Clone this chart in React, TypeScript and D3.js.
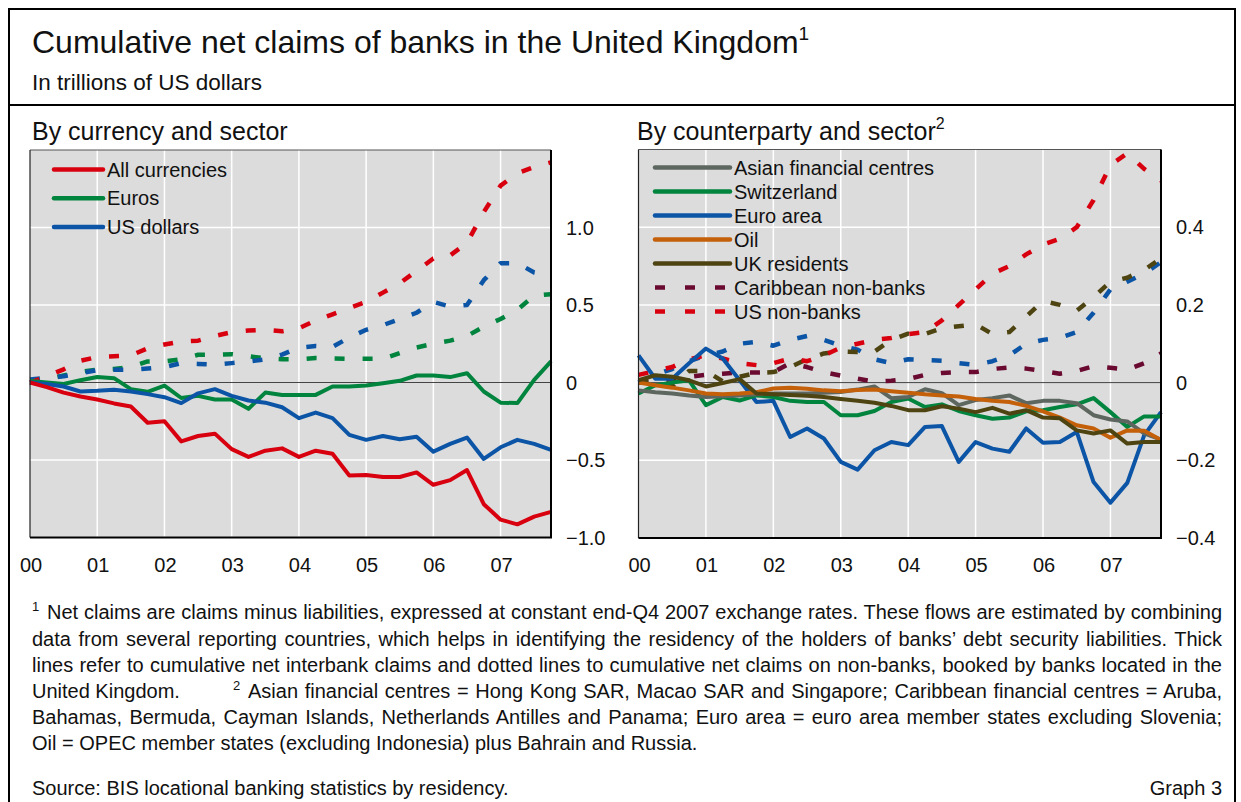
import React, { useLayoutEffect, useRef } from 'react';
import * as d3 from 'd3';

// ---------- Data (quarterly, 2000 Q1 .. 2007 Q4) ----------
const startYear = 2000;
const yearTicks = [2000, 2001, 2002, 2003, 2004, 2005, 2006, 2007];
const yearLabels = ['00', '01', '02', '03', '04', '05', '06', '07'];

// Left panel: by currency and sector (banks = solid, non-banks = dashed)
const allCurrenciesBanks = [0, -0.03, -0.065, -0.09, -0.11, -0.135, -0.155, -0.26, -0.25, -0.38, -0.345, -0.33, -0.43, -0.48, -0.44, -0.425, -0.48, -0.44, -0.46, -0.6, -0.597, -0.61, -0.61, -0.58, -0.66, -0.63, -0.565, -0.785, -0.885, -0.915, -0.865, -0.835];
const eurosBanks = [0.01, 0.0, -0.01, 0.015, 0.035, 0.028, -0.043, -0.06, -0.02, -0.1, -0.086, -0.11, -0.11, -0.17, -0.065, -0.08, -0.08, -0.08, -0.026, -0.026, -0.02, -0.005, 0.011, 0.045, 0.045, 0.035, 0.06, -0.058, -0.13, -0.133, 0.017, 0.136];
const usDollarsBanks = [0.0, -0.01, -0.026, -0.058, -0.054, -0.047, -0.058, -0.075, -0.095, -0.133, -0.07, -0.043, -0.086, -0.116, -0.13, -0.16, -0.23, -0.194, -0.23, -0.338, -0.37, -0.345, -0.366, -0.35, -0.446, -0.396, -0.355, -0.493, -0.418, -0.37, -0.396, -0.435];
const allCurrenciesNonBanks = [0, 0.04, 0.085, 0.14, 0.165, 0.17, 0.175, 0.22, 0.245, 0.265, 0.27, 0.3, 0.325, 0.335, 0.34, 0.33, 0.35, 0.4, 0.44, 0.48, 0.52, 0.58, 0.64, 0.72, 0.8, 0.82, 0.9, 1.1, 1.27, 1.35, 1.39, 1.42];
const eurosNonBanks = [0.0, 0.02, 0.045, 0.07, 0.083, 0.087, 0.1, 0.136, 0.136, 0.15, 0.179, 0.18, 0.183, 0.17, 0.155, 0.15, 0.15, 0.158, 0.155, 0.153, 0.153, 0.153, 0.19, 0.226, 0.25, 0.27, 0.3, 0.36, 0.41, 0.47, 0.56, 0.57];
const usDollarsNonBanks = [0.02, 0.03, 0.04, 0.06, 0.08, 0.082, 0.082, 0.09, 0.1, 0.125, 0.12, 0.115, 0.125, 0.135, 0.15, 0.18, 0.225, 0.235, 0.23, 0.29, 0.34, 0.37, 0.41, 0.45, 0.52, 0.49, 0.5, 0.66, 0.77, 0.77, 0.71, 0.69];

// Right panel: by counterparty and sector
const asianFinancialCentres = [-0.02, -0.025, -0.028, -0.033, -0.037, -0.035, -0.033, -0.03, -0.028, -0.028, -0.028, -0.026, -0.024, -0.018, -0.01, -0.04, -0.037, -0.017, -0.027, -0.058, -0.045, -0.04, -0.033, -0.053, -0.047, -0.047, -0.053, -0.084, -0.095, -0.1, -0.131, -0.147];
const switzerland = [-0.028, -0.007, 0.0, 0.006, -0.058, -0.037, -0.046, -0.033, -0.037, -0.047, -0.05, -0.05, -0.084, -0.084, -0.073, -0.05, -0.041, -0.063, -0.056, -0.073, -0.084, -0.093, -0.09, -0.074, -0.071, -0.063, -0.056, -0.04, -0.076, -0.114, -0.087, -0.087];
const euroArea = [0.07, 0.01, 0.01, 0.05, 0.0875, 0.062, 0.006, -0.05, -0.047, -0.14, -0.118, -0.144, -0.204, -0.224, -0.174, -0.153, -0.161, -0.114, -0.112, -0.204, -0.153, -0.17, -0.178, -0.118, -0.155, -0.153, -0.127, -0.256, -0.309, -0.258, -0.136, -0.076];
const oil = [0.0, -0.007, -0.013, -0.02, -0.028, -0.03, -0.028, -0.025, -0.015, -0.013, -0.016, -0.02, -0.022, -0.019, -0.018, -0.022, -0.026, -0.03, -0.033, -0.036, -0.042, -0.047, -0.05, -0.06, -0.074, -0.09, -0.11, -0.118, -0.142, -0.123, -0.124, -0.148];
const ukResidents = [0.006, 0.019, 0.015, 0.006, -0.01, -0.001, 0.009, -0.028, -0.03, -0.032, -0.034, -0.037, -0.042, -0.047, -0.052, -0.06, -0.071, -0.071, -0.061, -0.067, -0.076, -0.065, -0.08, -0.071, -0.09, -0.092, -0.123, -0.131, -0.123, -0.157, -0.153, -0.153];
const caribbeanNonBanks = [0, 0.005, 0.009, 0.015, 0.02, 0.023, 0.026, 0.026, 0.027, 0.05, 0.04, 0.027, 0.018, 0.01, 0.002, 0.005, 0.009, 0.02, 0.025, 0.027, 0.027, 0.035, 0.039, 0.036, 0.03, 0.023, 0.03, 0.042, 0.038, 0.033, 0.05, 0.075];
const usNonBanks = [0.02, 0.03, 0.04, 0.06, 0.07, 0.062, 0.05, 0.045, 0.05, 0.062, 0.055, 0.07, 0.09, 0.1, 0.11, 0.115, 0.125, 0.13, 0.16, 0.2, 0.24, 0.28, 0.3, 0.33, 0.355, 0.37, 0.4, 0.47, 0.56, 0.59, 0.55, 0.52];
const euroAreaNonBanks = [0.0, 0.02, 0.035, 0.055, 0.07, 0.08, 0.1, 0.105, 0.095, 0.11, 0.12, 0.11, 0.095, 0.085, 0.06, 0.05, 0.06, 0.058, 0.056, 0.05, 0.046, 0.055, 0.07, 0.1, 0.11, 0.115, 0.13, 0.18, 0.24, 0.26, 0.28, 0.31];
const ukResidentsNonBanks = [0.0, 0.005, -0.01, 0.03, 0.03, 0.003, 0.015, 0.025, 0.027, 0.04, 0.06, 0.075, 0.08, 0.079, 0.08, 0.11, 0.126, 0.125, 0.14, 0.145, 0.15, 0.125, 0.13, 0.17, 0.21, 0.2, 0.185, 0.22, 0.26, 0.27, 0.29, 0.32];

const leftTicks = [-1.0, -0.5, 0, 0.5, 1.0];
const leftTickLabels = ['\u22121.0', '\u22120.5', '0', '0.5', '1.0'];
const rightTicks = [-0.4, -0.2, 0, 0.2, 0.4];
const rightTickLabels = ['\u22120.4', '\u22120.2', '0', '0.2', '0.4'];

const C = {
  red: '#d8000f',
  green: '#00843e',
  blue: '#0c55a6',
  grey: '#5e6660',
  orange: '#c45f0a',
  olive: '#4e4412',
  maroon: '#6a0a30',
  bg: '#dcdcdc',
};

const leftLegend = [
  { label: 'All currencies', color: C.red, dashed: false },
  { label: 'Euros', color: C.green, dashed: false },
  { label: 'US dollars', color: C.blue, dashed: false },
];
const rightLegend = [
  { label: 'Asian financial centres', color: C.grey, dashed: false },
  { label: 'Switzerland', color: C.green, dashed: false },
  { label: 'Euro area', color: C.blue, dashed: false },
  { label: 'Oil', color: C.orange, dashed: false },
  { label: 'UK residents', color: C.olive, dashed: false },
  { label: 'Caribbean non-banks', color: C.maroon, dashed: true },
  { label: 'US non-banks', color: C.red, dashed: true },
];

const leftSeries = [
  { values: eurosNonBanks, color: C.green, dashed: true },
  { values: usDollarsNonBanks, color: C.blue, dashed: true },
  { values: allCurrenciesNonBanks, color: C.red, dashed: true },
  { values: eurosBanks, color: C.green, dashed: false },
  { values: usDollarsBanks, color: C.blue, dashed: false },
  { values: allCurrenciesBanks, color: C.red, dashed: false },
];
const rightSeries = [
  { values: caribbeanNonBanks, color: C.maroon, dashed: true },
  { values: euroAreaNonBanks, color: C.blue, dashed: true },
  { values: ukResidentsNonBanks, color: C.olive, dashed: true },
  { values: usNonBanks, color: C.red, dashed: true },
  { values: euroArea, color: C.blue, dashed: false },
  { values: switzerland, color: C.green, dashed: false },
  { values: asianFinancialCentres, color: C.grey, dashed: false },
  { values: oil, color: C.orange, dashed: false },
  { values: ukResidents, color: C.olive, dashed: false },
];

const footnote1 = 'Net claims are claims minus liabilities, expressed at constant end-Q4 2007 exchange rates. These flows are estimated by combining';
const footLines = [
  'data from several reporting countries, which helps in identifying the residency of the holders of banks\u2019 debt security liabilities. Thick',
  'lines refer to cumulative net interbank claims and dotted lines to cumulative net claims on non-banks, booked by banks located in the',
];
const footnote2a = 'Asian financial centres = Hong Kong SAR, Macao SAR and Singapore; Caribbean financial centres = Aruba,';
const footnote2b = 'Bahamas, Bermuda, Cayman Islands, Netherlands Antilles and Panama; Euro area = euro area member states excluding Slovenia;';
const footnote2c = 'Oil = OPEC member states (excluding Indonesia) plus Bahrain and Russia.';

const FONT = "'Liberation Sans', Arial, Helvetica, sans-serif";
const DASH = '10,18';
const FOOT = 20;

type Series = { values: number[]; color: string; dashed: boolean };

function JustifiedText(props: { x: number; y: number; right: number; text: string; fontSize: number }) {
  const ref = useRef<SVGTextElement>(null);
  useLayoutEffect(() => {
    const el = ref.current;
    if (!el) return;
    el.style.wordSpacing = '0px';
    const natural = el.getComputedTextLength();
    const spaces = (props.text.match(/ /g) || []).length;
    const target = props.right - props.x;
    if (spaces > 0) el.style.wordSpacing = `${(target - natural) / spaces}px`;
  }, [props.text, props.x, props.right]);
  return (
    <text ref={ref} x={props.x} y={props.y} fontSize={props.fontSize} fontFamily={FONT} fill="#111">{props.text}</text>
  );
}

function Panel(props: {
  x0: number; x1: number; y0: number; y1: number;
  domain: [number, number]; ticks: number[]; tickLabels: string[];
  series: Series[];
  legend: { label: string; color: string; dashed: boolean }[];
  legendX: number; legendLineW: number; legendTop: number; legendStep: number;
}) {
  const { x0, x1, y0, y1, domain, ticks, tickLabels, series, legend } = props;
  const x = d3.scaleLinear().domain([startYear, startYear + 7.75]).range([x0, x1]);
  const y = d3.scaleLinear().domain(domain).range([y1, y0]);
  const line = d3.line<number>()
    .x((_, i) => x(startYear + i * 0.25))
    .y((d) => y(d));
  return (
    <g>
      <rect x={x0} y={y0} width={x1 - x0} height={y1 - y0} fill={C.bg} />
      {yearTicks.slice(1).map((t) => (
        <line key={'v' + t} x1={x(t)} x2={x(t)} y1={y0} y2={y1} stroke="#fff" strokeWidth={1.5} />
      ))}
      {ticks.filter((t) => t !== 0).map((t) => (
        <line key={'h' + t} x1={x0} x2={x1} y1={y(t)} y2={y(t)} stroke="#fff" strokeWidth={1.5} />
      ))}
      <line x1={x0} x2={x1} y1={y(0)} y2={y(0)} stroke="#444" strokeWidth={1} />
      {series.map((s, i) => (
        <path key={i} d={line(s.values) || ''} fill="none" stroke={s.color} strokeWidth={s.dashed ? 4.5 : 4}
          strokeDasharray={s.dashed ? DASH : undefined} strokeLinejoin="round" />
      ))}
      {/* frame */}
      <line x1={x0} x2={x1} y1={y0} y2={y0} stroke="#555" strokeWidth={1} />
      <line x1={x0} x2={x0} y1={y0} y2={y1} stroke="#222" strokeWidth={1.2} />
      <line x1={x0} x2={x1 + 1} y1={y1} y2={y1} stroke="#000" strokeWidth={2} />
      <line x1={x1} x2={x1} y1={y0} y2={y1} stroke="#000" strokeWidth={2} />
      {/* legend */}
      {legend.map((l, i) => {
        const ly = props.legendTop + i * props.legendStep;
        return (
          <g key={l.label}>
            <line x1={props.legendX} x2={props.legendX + props.legendLineW} y1={ly} y2={ly}
              stroke={l.color} strokeWidth={4.5} strokeDasharray={l.dashed ? '10,20' : undefined} strokeLinecap={l.dashed ? 'butt' : 'round'} />
            <text x={props.legendX + props.legendLineW + 4} y={ly + 7} fontSize={20} fontFamily={FONT} fill="#111">{l.label}</text>
          </g>
        );
      })}
      {/* y tick labels (right) */}
      {ticks.map((t, i) => (
        <text key={'yt' + t} x={x1 + 15} y={y(t) + 7} fontSize={20} fontFamily={FONT} fill="#111">{tickLabels[i]}</text>
      ))}
      {/* x tick labels */}
      {yearTicks.map((t, i) => (
        <text key={'xt' + t} x={x(t) + 1} y={572} fontSize={20} fontFamily={FONT} fill="#111" textAnchor="middle">{yearLabels[i]}</text>
      ))}
    </g>
  );
}

export default function App() {
  const W = 1241, H = 802;
  return (
    <div style={{ position: 'absolute', left: 0, top: 0, width: W, height: H, background: '#fff' }}>
      <svg width={W} height={H} viewBox={`0 0 ${W} ${H}`} style={{ display: 'block' }}>
        <rect width={W} height={H} fill="#fff" />
        {/* outer frame */}
        <path d={`M9,${H + 5} V9 H1235 V${H + 5}`} fill="none" stroke="#000" strokeWidth={2} />
        <line x1={9} x2={1235} y1={105} y2={105} stroke="#000" strokeWidth={2} />

        <text x={32} y={53} fontSize={32} fontFamily={FONT} fill="#111">
          Cumulative net claims of banks in the United Kingdom<tspan fontSize={19} dy={-13}>1</tspan>
        </text>
        <text x={32} y={90} fontSize={22.5} fontFamily={FONT} fill="#111">In trillions of US dollars</text>

        <text x={32} y={140} fontSize={25} fontFamily={FONT} fill="#111">By currency and sector</text>
        <text x={637} y={140} fontSize={25} fontFamily={FONT} fill="#111">
          By counterparty and sector<tspan fontSize={16} dy={-11}>2</tspan>
        </text>

        <Panel x0={30} x1={551} y0={150} y1={537.5} domain={[-1, 1.5]} ticks={leftTicks} tickLabels={leftTickLabels}
          series={leftSeries} legend={leftLegend} legendX={54} legendLineW={49} legendTop={169.5} legendStep={28.7} />
        <Panel x0={638.5} x1={1161} y0={149.5} y1={538} domain={[-0.4, 0.6]} ticks={rightTicks} tickLabels={rightTickLabels}
          series={rightSeries} legend={rightLegend} legendX={655} legendLineW={75} legendTop={167.5} legendStep={24} />

        {/* footnotes */}
        <text x={32} y={611} fontSize={13} fontFamily={FONT} fill="#111">1</text>
        <JustifiedText x={47} y={619} right={1222} text={footnote1} fontSize={FOOT} />
        {footLines.map((s, i) => (
          <JustifiedText key={i} x={32} y={645.5 + i * 26.3} right={1222} text={s} fontSize={FOOT} />
        ))}
        <text x={32} y={698} fontSize={FOOT} fontFamily={FONT} fill="#111">United Kingdom.</text>
        <text x={233} y={690} fontSize={13} fontFamily={FONT} fill="#111">2</text>
        <JustifiedText x={248} y={698} right={1222} text={footnote2a} fontSize={FOOT} />
        <JustifiedText x={32} y={724} right={1222} text={footnote2b} fontSize={FOOT} />
        <text x={32} y={750} fontSize={FOOT} fontFamily={FONT} fill="#111">{footnote2c}</text>
        <text x={32} y={795} fontSize={FOOT} fontFamily={FONT} fill="#111">Source: BIS locational banking statistics by residency.</text>
        <text x={1222} y={795} fontSize={FOOT} fontFamily={FONT} fill="#111" textAnchor="end">Graph 3</text>
      </svg>
    </div>
  );
}
